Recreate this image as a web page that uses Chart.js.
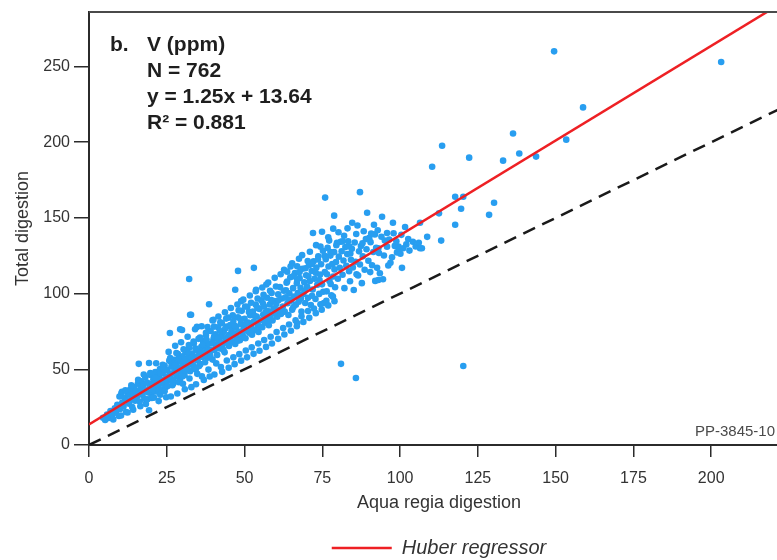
<!DOCTYPE html>
<html>
<head>
<meta charset="utf-8">
<script src="https://cdn.jsdelivr.net/npm/chart.js@4.4.1/dist/chart.umd.min.js"></script>
<style>
  html, body { margin: 0; padding: 0; background: #fff; overflow: hidden; }
  /* the figure is wider than the window: its right side is cut off, like the source */
  #wrap { width: 866px; height: 560px; }
</style>
</head>
<body>
<div id="wrap"><canvas id="chart" width="866" height="560"></canvas></div>
<script>
// Axis setup
const xTicks = [0, 25, 50, 75, 100, 125, 150, 175, 200];
const yTicks = [0, 50, 100, 150, 200, 250];
const xRange = [0, 225];
const yRange = [0, 286];

// Huber regression reported on the panel
const huberSlope = 1.25;
const huberIntercept = 13.64;
const panelLabel = "b.";
const panelLines = ["V (ppm)", "N = 762", "y = 1.25x + 13.64", "R\u00B2 = 0.881"];
const figureId = "PP-3845-10";

// V (ppm): [aqua regia, total digestion]
const bandLow = [
  [4.5,18],[5.2,16.5],[5.8,20.1],[6.3,17.8],[6.9,22.4],[7.4,19.6],[7.8,16.9],[8.3,24.2],[8.7,21.3],[9.1,26.5],
  [9.6,19.2],[10.0,23.8],[10.4,34.0],[10.7,28.1],[11.1,25.4],[11.5,31.2],[11.9,21.8],[12.2,29.6],[12.6,33.5],[12.9,27.2],
  [13.3,36.8],[13.6,30.4],[13.9,25.1],[14.2,33.9],[14.5,38.2],[14.8,29.3],[15.1,35.6],[15.4,31.8],[15.7,40.5],[16.0,53.6],
  [16.0,34.2],[16.3,28.7],[16.6,37.4],[16.9,42.1],[17.2,33.1],[17.5,39.6],[17.8,30.5],[18.1,44.8],[18.4,36.2],[18.7,41.3],
  [19.0,34.7],[19.3,54.2],[19.3,23.0],[19.5,38.9],[19.8,46.2],[20.1,32.6],[20.4,40.8],[20.7,43.5],[21.0,37.1],[21.3,48.2],
  [21.6,35.4],[21.9,42.7],[22.2,39.3],[22.5,45.9],[22.8,50.1],[23.1,36.8],[23.4,43.2],[23.7,47.6],[24.0,40.4],[24.3,52.3],
  [24.6,38.2],[24.9,45.1],[25.2,49.5],[25.5,42.8],[25.8,55.7],[26.0,74.0],
  [20.5,36.3],[21.2,44.6],[21.8,40.1],[22.4,35.2],[23.0,47.4],[23.6,41.9],[24.1,49.8],[24.7,43.6],[25.3,38.9],[25.9,46.8]
];

const bandMid = [
  [26.2,44.1],[26.5,51.8],[26.8,47.3],[27.1,40.6],[27.4,56.2],[27.7,49.0],[28.0,53.4],[28.3,45.2],[28.6,60.1],[28.9,50.7],
  [29.2,42.9],[29.3,76.5],[29.5,55.3],[29.8,48.4],[30.1,58.6],[30.4,52.0],[30.7,46.1],[31.0,61.8],[31.3,54.5],[31.6,50.2],
  [31.9,57.9],[32.2,109.6],[32.2,64.3],[32.5,86.0],[32.5,48.7],[32.8,55.1],[33.1,60.4],[33.4,52.8],[33.7,67.2],[34.0,57.3],
  [34.3,49.9],[34.7,78.0],[34.6,62.5],[34.9,55.8],[35.2,70.1],[35.5,59.7],[35.8,53.4],[36.1,64.9],[36.4,58.2],[36.7,68.6],
  [37.0,61.3],[37.3,54.7],[37.6,72.4],[37.9,63.8],[38.2,57.6],[38.6,93.0],[38.5,66.9],[38.8,60.2],[39.1,75.3],[39.4,63.1],
  [39.7,56.4],[40.0,82.7],[40.0,69.8],[40.3,62.6],[40.6,73.2],[40.9,66.0],[41.2,59.5],[41.5,77.8],[41.8,68.4],[42.1,63.7],
  [42.4,71.9],[42.7,80.5],[43.0,66.3],[43.3,74.6],[43.6,61.2],[43.9,70.5],[44.2,78.3],[44.5,67.7],[44.8,84.1],[45.1,72.8],
  [26.4,54.9],[27.0,43.2],[27.6,52.6],[28.2,48.1],[28.8,56.9],[29.4,51.4],[30.0,45.3],[30.6,55.9],[31.2,49.1],[31.8,60.7],
  [32.4,53.6],[33.0,57.8],[33.6,51.0],[34.2,63.9],[34.8,58.4],[35.4,52.1],[36.0,61.6],[36.6,66.3],[37.2,59.4],[37.8,69.5],
  [38.4,62.1],[39.0,58.8],[39.6,67.4],[40.2,71.6],[40.8,64.3],[41.4,70.2],[42.0,75.4],[42.6,67.9],[43.2,62.8],[43.8,76.9],
  [44.4,71.1],[45.0,65.4],[45.4,79.2],[29.9,76.0],[32.8,86.0],[48.9,95.0]
];

const bandUpper = [
  [45.5,70.2],[45.8,75.6],[46.1,68.3],[46.4,81.9],[46.7,73.5],[47.0,102.5],[47.0,66.7],[47.3,77.4],[47.6,71.0],[47.9,115.0],
  [47.9,84.3],[48.2,74.8],[48.5,69.2],[48.8,79.9],[49.1,88.6],[49.4,72.6],[49.7,77.1],[50.0,83.4],[50.3,70.5],[50.6,76.2],
  [50.9,91.3],[51.2,80.8],[51.5,74.1],[51.8,85.7],[52.1,78.6],[52.4,72.9],[52.7,88.2],[53.0,117.0],[53.0,81.5],[53.3,76.0],
  [53.7,102.5],[53.6,92.7],[53.9,84.9],[54.2,79.3],[54.5,74.6],[54.8,89.8],[55.1,82.4],[55.4,95.6],[55.7,77.8],[56.0,86.1],
  [56.3,91.4],[56.6,80.7],[57.0,106.0],[56.9,84.2],[57.2,97.3],[57.5,88.5],[57.8,79.1],[58.1,92.8],[58.4,85.6],[58.7,100.4],
  [59.0,82.3],[59.3,89.7],[59.6,95.1],[59.9,86.8],
  [45.9,72.4],[46.9,78.8],[47.8,68.9],[48.7,83.1],[49.6,75.3],[50.5,80.1],[51.4,87.9],[52.3,76.4],[53.2,85.3],[54.1,90.6],
  [55.0,78.2],[55.9,93.4],[56.8,87.6],[57.7,82.1],[58.6,95.8],[59.5,90.2]
];

const bandHigh = [
  [60.2,93.1],[60.5,84.7],[60.8,99.6],[61.1,89.2],[61.4,104.3],[61.7,86.5],[62.0,96.8],[62.3,91.4],[62.7,115.7],[62.6,101.9],
  [62.9,88.1],[63.2,97.5],[63.5,107.2],[63.8,93.6],[64.1,85.9],[64.4,100.2],[64.7,110.8],[65.0,95.3],[65.3,120.0],[65.3,89.4],
  [65.6,103.6],[65.9,98.1],[66.2,113.5],[66.5,92.7],[66.9,80.6],[66.8,106.9],[67.1,100.3],[67.5,123.0],[67.4,94.6],[67.7,110.2],
  [68.0,103.9],[68.3,88.2],[68.6,116.4],[68.9,99.7],[69.2,107.5],[69.5,93.8],[69.8,112.1],[70.1,104.6],[70.4,97.2],[70.7,118.8],
  [71.0,127.6],[71.0,108.3],[71.3,92.5],[71.6,114.9],[72.0,140.0],[71.9,102.7],[72.2,121.3],[72.5,109.8],[72.8,96.4],[73.1,117.2],
  [73.4,105.9],[73.7,124.6],[74.0,99.8],[74.3,112.6],[74.9,140.9],[74.6,119.4],[74.9,106.1],[75.2,128.3],[75.5,93.7],[75.9,163.4],
  [75.8,114.2],[76.1,122.7],[76.4,101.5],[76.7,130.2],[77.0,117.9],[77.2,135.0],[77.3,108.4],[77.6,125.1],[77.9,98.9],[78.2,119.6],
  [78.5,142.9],[78.5,111.3],[78.8,151.5],[78.8,127.4],[79.1,104.2],[79.4,120.8],[79.7,133.6],
  [60.9,95.6],[62.1,87.9],[63.3,102.1],[64.5,96.0],[65.7,91.1],[66.9,109.5],[68.1,96.7],[69.3,101.8],[70.5,111.4],[71.7,98.6],
  [72.9,113.7],[74.1,108.9],[75.3,101.2],[76.5,112.8],[77.7,106.3],[78.9,116.0],[63.7,114.5],[66.9,118.0],[73.0,132.0],[76.0,124.5],
  [79.5,131.9],[76.9,137.2],[74.4,131.0],[70.3,121.5],[68.5,125.4],[64.8,117.9]
];

// looser points on both sides of the dense band
const bandEdges = [
  [10.3,19.5],[9.8,32.0],[10.6,35.2],[12.4,21.5],[11.7,36.1],[14.2,23.3],[13.6,39.5],[16.5,25.6],[15.8,43.0],
  [18.3,27.1],[17.6,46.5],[18.8,30.2],[20.2,31.0],[19.7,47.5],[20.9,31.3],[22.4,29.0],[21.6,54.0],[22.9,33.2],
  [24.3,35.5],[23.7,53.0],[24.8,31.5],[26.3,32.0],[25.6,61.5],[26.8,39.5],[26.1,57.5],[28.4,34.0],[27.7,65.5],
  [28.9,41.5],[28.1,60.8],[30.2,40.5],[29.6,67.9],[30.8,36.8],[30.4,63.2],[32.3,43.9],[31.7,71.5],[32.9,38.2],
  [32.1,66.0],[34.4,40.1],[33.6,68.4],[34.8,47.0],[34.1,76.5],[36.3,45.3],[35.7,71.0],[36.9,43.0],[36.2,78.4],
  [38.4,49.8],[37.6,74.1],[38.8,45.2],[38.1,77.9],[40.3,46.6],[39.7,82.3],[40.9,53.9],[40.2,78.2],[42.4,51.5],
  [41.6,84.9],[42.8,48.3],[42.2,81.0],[44.3,55.8],[43.7,87.7],[44.9,51.0],[44.1,83.5],[46.4,57.9],[45.6,90.5],
  [46.8,53.4],[46.2,85.6],[48.3,60.0],[47.7,92.8],[48.9,55.7],[48.1,88.9],[50.4,62.4],[49.6,96.0],[50.8,57.9],
  [50.2,91.5],[52.3,64.5],[51.7,98.7],[52.9,60.2],[52.1,94.0],[54.4,67.0],[53.6,101.6],[54.8,62.3],[54.2,96.8],
  [56.3,69.4],[55.7,104.0],[56.9,64.8],[56.1,99.2],[58.4,71.5],[57.6,107.3],[58.8,67.0],[58.2,101.9],[60.3,74.6],
  [59.7,110.4],[60.8,70.1],[60.1,104.7],[62.4,77.2],[61.6,112.8],[62.8,73.0],[64.3,79.6],[63.7,108.0],[64.9,75.5],
  [66.4,82.3],[65.6,111.5],[66.8,78.4],[68.3,85.0],[67.7,114.2],[68.9,81.3],[70.4,88.5],[69.6,116.7],[70.8,84.0],
  [72.3,90.2],[71.7,119.6],[72.9,87.1],[74.4,93.0],[73.6,122.5],[74.8,89.4],[76.3,95.3],[75.7,125.0],[76.9,92.2],
  [78.4,98.0],[77.6,127.5],[78.9,95.0]
];

const bandTail = [
  [80.0,109.8],[80.3,124.4],[80.6,117.1],[81.0,53.6],[80.9,134.2],[81.2,128.0],[81.5,112.5],[81.8,121.9],[82.1,103.6],[82.4,130.7],
  [82.7,118.3],[83.0,126.1],[83.3,134.5],[83.6,114.8],[83.9,108.2],[84.2,122.4],[84.6,146.8],[84.5,129.6],[84.8,117.3],[85.8,44.3],
  [85.1,102.4],[85.4,133.8],[85.7,121.0],[86.0,112.7],[86.5,112.0],[86.8,127.9],[87.1,167.0],[87.1,119.2],[87.4,131.4],[87.7,106.9],
  [88.0,124.6],[88.6,115.8],[89.4,153.4],[89.2,129.3],[89.8,121.7],[90.1,136.8],[90.4,114.2],[90.7,139.6],[91.0,118.7],[91.6,145.5],
  [91.4,127.5],[92.0,108.4],[92.3,130.2],[92.6,117.0],[93.0,109.0],[93.2,126.8],[93.5,113.4],[94.2,150.8],[94.5,109.5],[94.8,125.2],
  [95.1,135.0],[95.8,140.0],[96.2,118.6],[96.9,120.4],[97.4,124.0],[97.7,146.8],[98.3,131.5],[99.0,127.2],[99.6,129.8],[100.1,126.3],
  [100.6,117.0],[101.0,130.0],[101.6,144.0],[102.0,132.5],[102.6,136.0],[103.0,128.4],
  [81.5,134.5],[84.0,126.5],[90.5,134.0],[93.0,130.0],[95.8,131.0],[99.5,131.0],
  [80.2,140.5],[82.0,138.2],[83.1,143.1],[85.9,139.4],[86.3,145.0],[88.3,141.2],[89.0,136.0],[91.9,139.1],[92.8,141.8],[94.0,137.6],
  [96.5,135.7],[97.9,139.9],[98.8,134.6],[100.4,138.8],[87.9,133.2],[83.7,131.1]
];

const outliers = [
  [104.1,134.2],[105.0,131.1],[106.0,133.6],[106.4,146.8],[106.4,130.0],[107.0,130.0],[108.7,137.5],[110.3,183.8],[112.5,153.0],[113.2,135.0],
  [113.5,197.7],[117.7,164.0],[117.7,145.5],[119.6,156.0],[120.3,164.0],[120.3,52.2],[122.2,189.8],[128.6,152.0],[130.2,160.0],[133.1,187.8],
  [136.3,205.7],[138.3,192.5],[143.7,190.5],[149.5,260.0],[153.4,201.7],[158.8,223.0],[203.2,253.0]
];

const samples = [...bandLow, ...bandMid, ...bandUpper, ...bandHigh, ...bandEdges, ...bandTail, ...outliers]
  .map(([x, y]) => ({ x, y }));
const huberLine = xRange.map((x) => ({ x, y: huberSlope * x + huberIntercept }));
const oneToOne = xRange.map((x) => ({ x, y: x }));

const FONT = "'Liberation Sans', Arial, Helvetica, sans-serif";
const INK = "#2b2b2b";

// top frame line, panel text and figure id
const extras = {
  id: "extras",
  afterDraw(chart) {
    const { ctx, chartArea } = chart;
    ctx.save();
    ctx.strokeStyle = "#4a4a4a";
    ctx.lineWidth = 2;
    ctx.beginPath();
    ctx.moveTo(chartArea.left, chartArea.top);
    ctx.lineTo(chartArea.right, chartArea.top);
    ctx.stroke();

    ctx.fillStyle = "#1e1e1e";
    ctx.textBaseline = "middle";
    ctx.font = "bold 21px " + FONT;
    ctx.fillText(panelLabel, 110, 45);
    panelLines.forEach((t, i) => ctx.fillText(t, 147, 45 + i * 26));

    ctx.font = "15px " + FONT;
    ctx.fillStyle = "#4a4a4a";
    ctx.fillText(figureId, 695, 432);
    ctx.restore();
  },
};

const axisGrid = { drawOnChartArea: false, drawTicks: true, color: INK, lineWidth: 1.5 };

new Chart(document.getElementById("chart"), {
  type: "scatter",
  data: {
    datasets: [
      {
        label: "Huber regressor",
        data: huberLine,
        showLine: true,
        borderColor: "rgb(238,32,36)",
        borderWidth: 2.5,
        pointRadius: 0,
        order: 1,
      },
      {
        label: "1:1 line",
        data: oneToOne,
        showLine: true,
        borderColor: "#1a1a1a",
        borderWidth: 2.5,
        borderDash: [13, 8],
        pointRadius: 0,
        order: 2,
      },
      {
        label: "V (ppm)",
        data: samples,
        backgroundColor: "rgb(40,158,240)",
        borderWidth: 0,
        pointRadius: 3.3,
        order: 3,
      },
    ],
  },
  options: {
    responsive: false,
    animation: false,
    layout: { autoPadding: false, padding: { top: 12, right: 77, left: 0, bottom: -8 } },
    scales: {
      x: {
        min: xRange[0],
        max: xRange[1],
        afterBuildTicks: (s) => { s.ticks = xTicks.map((v) => ({ value: v })); },
        afterFit: (s) => { s.height = 83; },
        grid: { ...axisGrid, tickLength: 12 },
        border: { color: INK, width: 2 },
        ticks: { color: "#333", font: { family: FONT, size: 16 }, padding: 12, maxRotation: 0 },
        title: {
          display: true,
          text: "Aqua regia digestion",
          color: "#333",
          font: { family: FONT, size: 18 },
          padding: { top: 0, bottom: 14 },
        },
      },
      y: {
        min: yRange[0],
        max: yRange[1],
        afterBuildTicks: (s) => { s.ticks = yTicks.map((v) => ({ value: v })); },
        afterFit: (s) => { s.width = 89; },
        grid: { ...axisGrid, tickLength: 15 },
        border: { color: INK, width: 2 },
        ticks: { color: "#333", font: { family: FONT, size: 16, lineHeight: 1 }, padding: 4 },
        title: {
          display: true,
          text: "Total digestion",
          color: "#333",
          font: { family: FONT, size: 18 },
          padding: { top: 12, bottom: 0 },
        },
      },
    },
    plugins: {
      tooltip: { enabled: false },
      legend: {
        position: "bottom",
        fullSize: false,
        labels: {
          filter: (item) => item.datasetIndex === 0,
          usePointStyle: true,
          pointStyle: "line",
          pointStyleWidth: 60,
          padding: 10,
          color: "#333",
          font: { family: FONT, size: 20, style: "italic" },
        },
      },
    },
  },
  plugins: [extras],
});
</script>
</body>
</html>
